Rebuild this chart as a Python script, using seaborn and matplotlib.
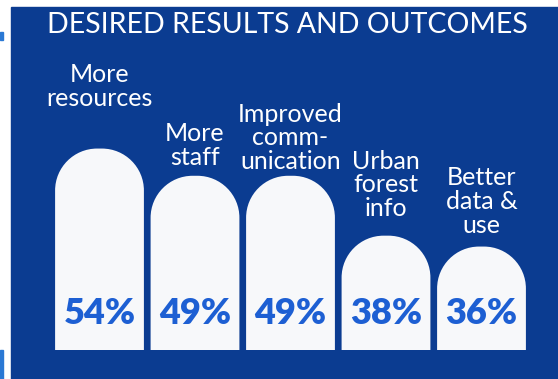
import matplotlib
matplotlib.use("Agg")
import matplotlib.pyplot as plt
from matplotlib.path import Path
from matplotlib.patches import PathPatch, Rectangle
from matplotlib.transforms import IdentityTransform, blended_transform_factory
import seaborn as sns
import pandas as pd

# Survey results
categories = ["More\nresources", "More\nstaff", "Improved\ncomm-\nunication",
              "Urban\nforest\ninfo", "Better\ndata &\nuse"]
values = [54, 49, 49, 38, 36]
title = "DESIRED RESULTS AND OUTCOMES"

# Layout / style
BG_BLUE = "#0b3c91"
ACCENT = "#2a78d4"
BAR_WHITE = "#f7f8fa"
PCT_BLUE = "#1d5fd3"
label_gap_px = [39, 7, 3, 16, 10]   # space between a bar's top and its caption

sns.set_theme(style="white")
plt.rcParams["font.family"] = ["Lato", "DejaVu Sans"]

W, H, DPI = 558, 379, 100
fig = plt.figure(figsize=(W / DPI, H / DPI), dpi=DPI, facecolor="white")

# blue panel and the small accent marks on the left edge
fig.patches.append(Rectangle((11 / W, 0), 1 - 11 / W, (H - 7) / H,
                             transform=fig.transFigure, color=BG_BLUE, zorder=-1))
fig.patches.append(Rectangle((0, (H - 40) / H), 3 / W, 8 / H,
                             transform=fig.transFigure, color=ACCENT, zorder=-1))
fig.patches.append(Rectangle((0, 0), 3 / W, 29 / H,
                             transform=fig.transFigure, color=ACCENT, zorder=-1))

ax = fig.add_axes([51.75 / W, 29 / H, 477.5 / W, 343 / H])
ax.set_zorder(1)
ax.patch.set_alpha(0)

df = pd.DataFrame({"category": categories, "value": values})
sns.barplot(data=df, x="category", y="value", color=BAR_WHITE, width=0.93,
            saturation=1, ax=ax)

ax.set_xlim(-0.5, 4.5)
ax.set_ylim(17, 80)
ax.set_axis_off()

# swap the flat bars for arch-topped ones (drawn in pixel space)
K = 0.5523
ybottom = ax.get_ylim()[0]
for p in list(ax.patches):
    x0 = p.get_x()
    y0 = max(p.get_y(), ybottom)
    x1, y1 = x0 + p.get_width(), p.get_y() + p.get_height()
    (px0, py0), (px1, py1) = ax.transData.transform([(x0, y0), (x1, y1)])
    r = min(42, (px1 - px0) / 2)
    verts = [
        (px0, py0), (px0, py1 - r),
        (px0, py1 - r + K * r), (px0 + r - K * r, py1), (px0 + r, py1),
        (px1 - r, py1),
        (px1 - r + K * r, py1), (px1, py1 - r + K * r), (px1, py1 - r),
        (px1, py0), (px0, py0),
    ]
    codes = [Path.MOVETO, Path.LINETO,
             Path.CURVE4, Path.CURVE4, Path.CURVE4,
             Path.LINETO,
             Path.CURVE4, Path.CURVE4, Path.CURVE4,
             Path.LINETO, Path.CLOSEPOLY]
    p.set_visible(False)
    ax.add_patch(PathPatch(Path(verts, codes), transform=IdentityTransform(),
                           facecolor=BAR_WHITE, edgecolor="none", clip_on=False,
                           zorder=2))

# captions above the bars and percentages inside them
low = blended_transform_factory(ax.transData, ax.transAxes)
for i, (cat, v) in enumerate(zip(categories, values)):
    ax.annotate(cat, xy=(i, v), xytext=(0, label_gap_px[i] * 72 / DPI),
                textcoords="offset points", ha="center", va="bottom",
                color="white", fontsize=18, linespacing=1.03, zorder=3)
    ax.text(i, 0.105, f"{v}%", transform=low, ha="center", va="center",
            color=PCT_BLUE, fontsize=26, fontweight="heavy", zorder=3)

fig.text(287 / W, (H - 25) / H, title, ha="center", va="center",
         color="white", fontsize=20.5)

fig.savefig("out.png", dpi=DPI, facecolor="white")
